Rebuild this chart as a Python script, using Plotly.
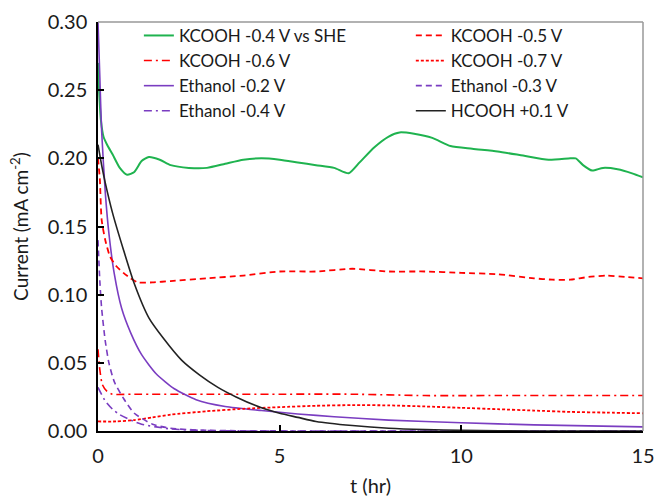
import plotly.graph_objects as go

# ---------------- data ----------------
t_k04 = [0, 0.03, 0.08, 0.15, 0.25, 0.4, 0.6, 0.8, 1.0, 1.2, 1.4, 1.7, 2.0, 2.5, 3.0, 3.5, 4.0, 4.5,
         5.0, 5.5, 6.0, 6.5, 6.9, 7.2, 7.6, 8.0, 8.3, 8.7, 9.2, 9.7, 10.3, 11.0, 11.7, 12.4, 13.0,
         13.15, 13.35, 13.6, 13.9, 14.3, 14.7, 15.0]
i_k04 = [0.27, 0.25, 0.228, 0.216, 0.21, 0.203, 0.193, 0.188, 0.19, 0.198, 0.201, 0.199, 0.195,
         0.193, 0.193, 0.196, 0.199, 0.2, 0.199, 0.197, 0.195, 0.193, 0.189, 0.197, 0.208, 0.216,
         0.219, 0.218, 0.215, 0.209, 0.207, 0.205, 0.202, 0.199, 0.2, 0.2, 0.195, 0.191, 0.193,
         0.192, 0.189, 0.186]

t_k05 = [0, 0.05, 0.1, 0.2, 0.33, 0.5, 0.7, 0.9, 1.1, 1.5, 2.0, 3.0, 4.0, 5.0, 6.0, 7.0, 8.0, 9.0,
         10.0, 11.0, 12.0, 12.5, 13.0, 13.5, 14.0, 14.5, 15.0]
i_k05 = [0.2, 0.185, 0.155, 0.14, 0.128, 0.121, 0.116, 0.112, 0.109, 0.109, 0.11, 0.112, 0.114,
         0.117, 0.117, 0.119, 0.117, 0.117, 0.116, 0.115, 0.112, 0.111, 0.111, 0.113, 0.114, 0.113,
         0.112]

t_k06 = [0, 0.05, 0.12, 0.25, 0.4, 1, 3, 5, 7, 9, 11, 13, 15]
i_k06 = [0.06, 0.045, 0.034, 0.029, 0.027, 0.027, 0.027, 0.027, 0.027, 0.026, 0.026, 0.026, 0.026]

t_k07 = [0, 0.5, 1, 1.5, 2, 3, 4, 5, 6, 7, 8, 9, 10, 11, 12, 13, 14, 15]
i_k07 = [0.007, 0.007, 0.008, 0.01, 0.012, 0.0145, 0.0163, 0.0175, 0.0185, 0.019, 0.0188, 0.018,
         0.017, 0.016, 0.015, 0.014, 0.0135, 0.013]

t_e02 = [0, 0.05, 0.1, 0.2, 0.3, 0.45, 0.65, 0.9, 1.2, 1.6, 2.1, 2.7, 3.5, 4.5, 5.5, 6.5, 8, 10, 12, 15]
i_e02 = [0.3, 0.26, 0.22, 0.175, 0.145, 0.115, 0.09, 0.072, 0.056, 0.042, 0.031, 0.023, 0.018,
         0.015, 0.0125, 0.0105, 0.008, 0.006, 0.0045, 0.003]

t_e03 = [0, 0.05, 0.1, 0.2, 0.3, 0.45, 0.7, 1.0, 1.5, 2.0, 3.0, 15]
i_e03 = [0.14, 0.11, 0.09, 0.066, 0.05, 0.036, 0.024, 0.013, 0.005, 0.002, 0.0005, 0.0]

t_e04 = [0, 0.2, 0.4, 0.6, 0.9, 1.2, 1.6, 2.0, 3.0, 15]
i_e04 = [0.032, 0.022, 0.016, 0.012, 0.008, 0.005, 0.003, 0.0015, 0.0003, 0.0]

t_h01 = [0, 0.1, 0.2, 0.4, 0.7, 1.0, 1.4, 1.8, 2.3, 2.8, 3.3, 3.8, 4.5, 5.0, 5.5, 6, 7, 8, 9, 10, 12, 15]
i_h01 = [0.21, 0.195, 0.182, 0.16, 0.133, 0.108, 0.083, 0.068, 0.052, 0.041, 0.032, 0.025, 0.017,
         0.013, 0.01, 0.007, 0.004, 0.002, 0.001, 0.0005, 0.0, 0.0]

x_ticks = [0, 5, 10, 15]
y_ticks = [0.00, 0.05, 0.10, 0.15, 0.20, 0.25, 0.30]

GREEN = "#1FB34F"
RED = "#FF0000"
PURPLE = "#7A3DC1"
BLACK = "#222222"
FONT = "Lato"
TXT = "#1a1a1a"

fig = go.Figure()

def add(t, i, name, color, dash, width, legend):
    fig.add_trace(go.Scatter(
        x=t, y=i, name=name, mode="lines",
        line=dict(color=color, dash=dash, width=width, shape="spline", smoothing=0.6),
        legend=legend,
    ))

# left legend column
add(t_k04, i_k04, "KCOOH -0.4 V vs SHE", GREEN, "solid", 2, "legend")
add(t_k06, i_k06, "KCOOH -0.6 V", RED, "8px,4px,2px,4px", 1.6, "legend")
add(t_e02, i_e02, "Ethanol -0.2 V", PURPLE, "solid", 1.6, "legend")
add(t_e04, i_e04, "Ethanol -0.4 V", PURPLE, "8px,4px,2px,4px", 1.6, "legend")
# right legend column
add(t_k05, i_k05, "KCOOH -0.5 V", RED, "6px,4px", 1.8, "legend2")
add(t_k07, i_k07, "KCOOH -0.7 V", RED, "3px,2px", 1.8, "legend2")
add(t_e03, i_e03, "Ethanol -0.3 V", PURPLE, "6px,4px", 1.6, "legend2")
add(t_h01, i_h01, "HCOOH +0.1 V", BLACK, "solid", 1.6, "legend2")

leg_common = dict(
    font=dict(family=FONT, size=17, color=TXT),
    bgcolor="rgba(0,0,0,0)", borderwidth=0,
    xref="paper", yref="paper", xanchor="left", yanchor="top",
    itemwidth=30, tracegroupgap=0,
)

fig.update_layout(
    width=657, height=497,
    margin=dict(l=98, r=14, t=22, b=66, autoexpand=False),
    paper_bgcolor="white", plot_bgcolor="white",
    font=dict(family=FONT, size=19, color=TXT),
    showlegend=True,
    legend=dict(x=0.075, y=1.01, **leg_common),
    legend2=dict(x=0.574, y=1.01, **leg_common),
    xaxis=dict(
        range=[0, 15], tickvals=x_ticks, ticktext=[str(v) for v in x_ticks],
        showline=True, linecolor="black", linewidth=1.5,
        ticks="inside", ticklen=6, tickcolor="black", tickwidth=1.5,
        showgrid=False, zeroline=False, ticklabelstandoff=6, automargin=False,
        title=dict(text="t (hr)", font=dict(family=FONT, size=20), standoff=13),
        tickfont=dict(family=FONT, size=20, color=TXT),
    ),
    yaxis=dict(
        range=[0, 0.30], tickvals=y_ticks, ticktext=[f"{v:.2f}" for v in y_ticks],
        showline=True, linecolor="black", linewidth=1.5,
        ticks="inside", ticklen=6, tickcolor="black", tickwidth=1.5,
        showgrid=False, zeroline=False, ticklabelstandoff=5, automargin=False,
        title=dict(text="Current (mA cm<sup>-2</sup>)", font=dict(family=FONT, size=19), standoff=14),
        tickfont=dict(family=FONT, size=20, color=TXT),
    ),
    shapes=[
        dict(type="line", xref="paper", yref="paper", x0=0, x1=1, y0=1, y1=1,
             line=dict(color="#999999", width=1.5)),
        dict(type="line", xref="paper", yref="paper", x0=1, x1=1, y0=0, y1=1,
             line=dict(color="#999999", width=1.5)),
    ],
)

fig.write_html("out.html")
